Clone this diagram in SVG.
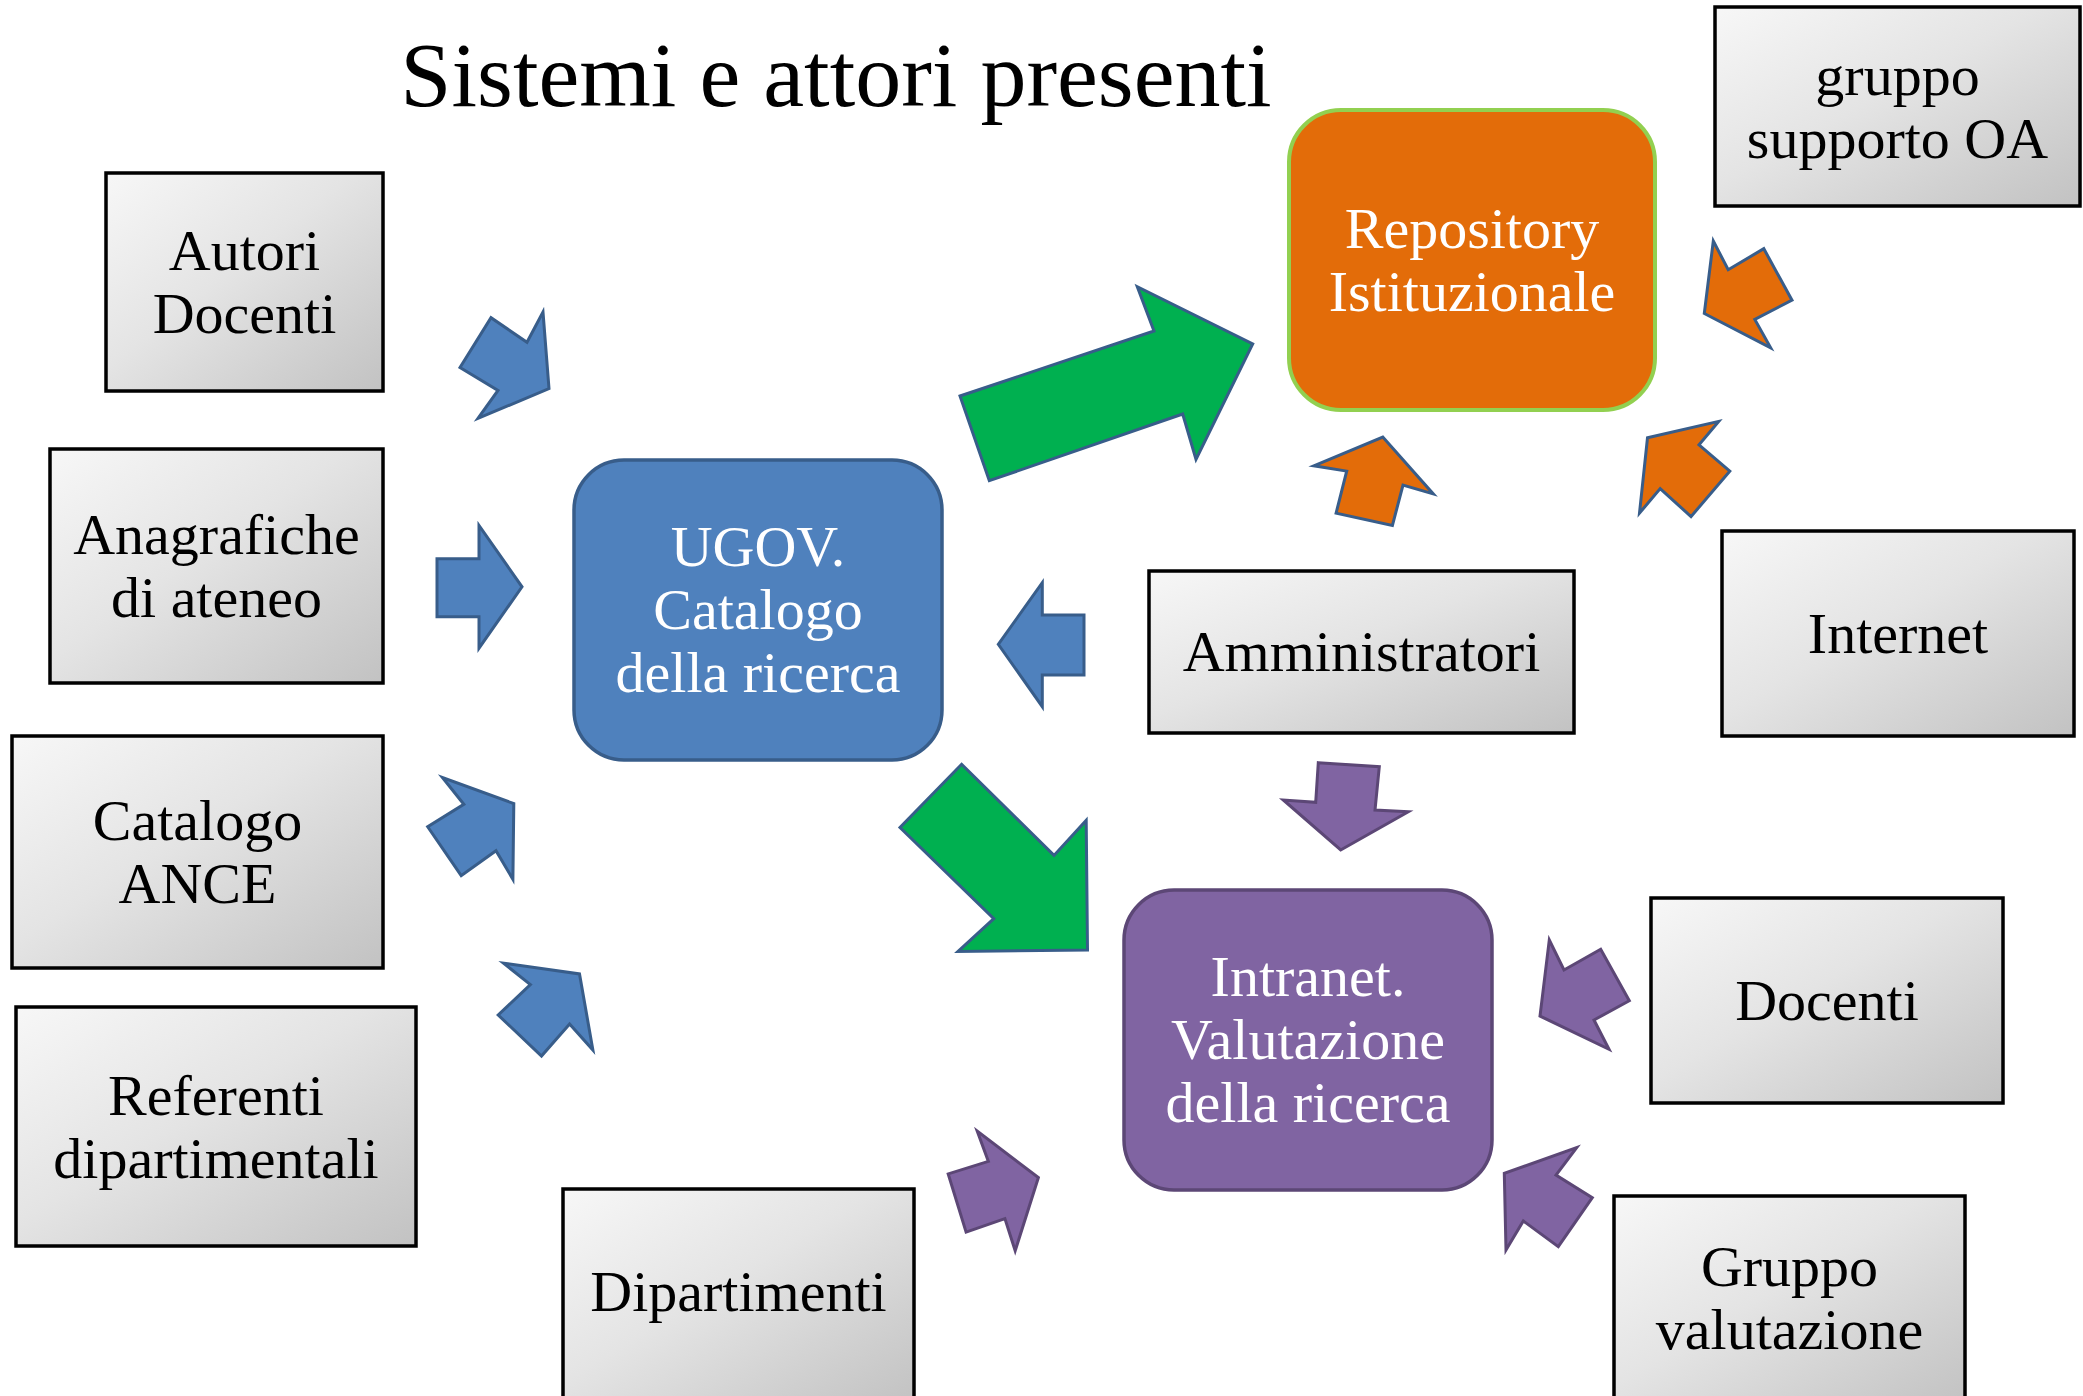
<svg xmlns="http://www.w3.org/2000/svg" width="2083" height="1396" viewBox="0 0 2083 1396">
  <defs>
    <linearGradient id="gray" x1="0" y1="0" x2="1" y2="1">
      <stop offset="0" stop-color="#F7F7F7"/>
      <stop offset="0.45" stop-color="#E4E4E4"/>
      <stop offset="1" stop-color="#C2C2C2"/>
    </linearGradient>
  </defs>
  <style>
    .box { fill: url(#gray); stroke: #000; stroke-width: 3.5; }
    .t { font-family: "Liberation Serif", "Times New Roman", serif; font-size: 58px; text-anchor: middle; fill: #000; }
    .w { fill: #FFFFFF; }
    .title { font-family: "Liberation Serif", "Times New Roman", serif; font-size: 92px; text-anchor: middle; fill: #000; }
    .blue { fill: #4F81BD; stroke: #385D8A; stroke-width: 3; stroke-linejoin: miter; }
    .green { fill: #00B050; stroke: #385D8A; stroke-width: 3; }
    .orange { fill: #E36C09; stroke: #385D8A; stroke-width: 3; }
    .purple { fill: #8064A2; stroke: #5C4776; stroke-width: 3; }
  </style>
  <rect width="2083" height="1396" fill="#FFFFFF"/>

  <text class="title" x="836" y="106">Sistemi e attori presenti</text>

  <g id="connectors">
    <polygon class="blue" points="460,367.5 491,317.7 527,342.3 543,312.1 549,388.6 478,418.4 498,390.4"/>
    <polygon class="blue" points="437,558.8 479,558.8 479,525.4 522,586.8 479,648.2 479,616.7 437,616.7"/>
    <polygon class="blue" points="463.8,804.3 442.4,777.5 513.8,803.6 512.9,879.3 496,850.7 461.2,875.7 427.7,826.8"/>
    <polygon class="blue" points="530.4,984.6 503.6,963.2 579.5,973.9 592.9,1050 569.6,1023.9 541.5,1056.1 498.2,1015"/>
    <polygon class="blue" points="998.3,644.3 1042.3,582.7 1042.3,615 1084,615 1084,675 1042.3,675 1042.3,706.7"/>
    <polygon class="green" points="960,396 1154,331 1137.3,286.7 1252.7,344 1196,459.3 1182.7,414 989.3,480.7"/>
    <polygon class="green" points="961.6,764.3 1054,855.4 1086.2,820.4 1087.5,950 958,951.4 993.8,918.6 900,827.5"/>
    <polygon class="orange" points="1713.3,241 1728.2,269.7 1763.8,248.7 1792,300.2 1754.8,319.4 1770.7,347.8 1704.3,313.5"/>
    <polygon class="orange" points="1313.8,465.8 1382.8,437.1 1433.3,493.9 1403,485.1 1392.4,525.4 1336.1,513.1 1346.7,471.1"/>
    <polygon class="orange" points="1647.5,437.8 1718.7,421.4 1699,444.8 1729.8,471.1 1691,516.6 1660.2,488.6 1639.5,513.1"/>
    <polygon class="purple" points="1318.3,762.7 1379.3,766.7 1375,810 1408.3,811.7 1340.7,850 1283.3,800 1315.7,802.3"/>
    <polygon class="purple" points="988.4,1161.4 977.2,1131.1 1038.4,1177.5 1015.2,1250.7 1004.9,1218.6 966.1,1232.1 948.2,1173.9"/>
    <polygon class="purple" points="1549.3,940 1564,970 1600.7,949.3 1629.3,1000.7 1594,1020 1609,1049.3 1540,1016"/>
    <polygon class="purple" points="1576.7,1147.7 1556,1175 1592.3,1197.7 1558.3,1246.7 1523.3,1221 1506,1250 1504.3,1173.3"/>
  </g>

  <g id="ugov">
    <rect x="574" y="460" width="368" height="300" rx="50" ry="50" fill="#4F81BD" stroke="#385D8A" stroke-width="3.5"/>
    <text class="t w" x="758" y="566">UGOV.</text>
    <text class="t w" x="758" y="629">Catalogo</text>
    <text class="t w" x="758" y="692">della ricerca</text>
  </g>

  <g id="repository">
    <rect x="1289" y="110" width="366" height="300" rx="52" ry="52" fill="#E36C09" stroke="#92D050" stroke-width="4"/>
    <text class="t w" x="1472" y="247.5">Repository</text>
    <text class="t w" x="1472" y="310.5">Istituzionale</text>
  </g>

  <g id="intranet">
    <rect x="1124" y="890" width="368" height="300" rx="50" ry="50" fill="#8064A2" stroke="#5C4776" stroke-width="3.5"/>
    <text class="t w" x="1308" y="996">Intranet.</text>
    <text class="t w" x="1308" y="1059">Valutazione</text>
    <text class="t w" x="1308" y="1122">della ricerca</text>
  </g>

  <g id="autori-docenti">
    <rect class="box" x="106" y="173" width="277" height="218"/>
    <text class="t" x="244.5" y="269.5">Autori</text>
    <text class="t" x="244.5" y="332.5">Docenti</text>
  </g>

  <g id="anagrafiche">
    <rect class="box" x="50" y="449" width="333" height="234"/>
    <text class="t" x="216.5" y="553.5">Anagrafiche</text>
    <text class="t" x="216.5" y="616.5">di ateneo</text>
  </g>

  <g id="catalogo-ance">
    <rect class="box" x="12" y="736" width="371" height="232"/>
    <text class="t" x="197.5" y="840">Catalogo</text>
    <text class="t" x="197.5" y="903">ANCE</text>
  </g>

  <g id="referenti">
    <rect class="box" x="16" y="1007" width="400" height="239"/>
    <text class="t" x="216" y="1115">Referenti</text>
    <text class="t" x="216" y="1178">dipartimentali</text>
  </g>

  <g id="dipartimenti">
    <rect class="box" x="563" y="1189" width="351" height="215"/>
    <text class="t" x="738.5" y="1311">Dipartimenti</text>
  </g>

  <g id="gruppo-supporto-oa">
    <rect class="box" x="1715" y="7" width="365" height="199"/>
    <text class="t" x="1897.5" y="94.5">gruppo</text>
    <text class="t" x="1897.5" y="158">supporto OA</text>
  </g>

  <g id="internet">
    <rect class="box" x="1722" y="531" width="352" height="205"/>
    <text class="t" x="1898" y="653">Internet</text>
  </g>

  <g id="amministratori">
    <rect class="box" x="1149" y="571" width="425" height="162"/>
    <text class="t" x="1361.5" y="671">Amministratori</text>
  </g>

  <g id="docenti">
    <rect class="box" x="1651" y="898" width="352" height="205"/>
    <text class="t" x="1827" y="1020">Docenti</text>
  </g>

  <g id="gruppo-valutazione">
    <rect class="box" x="1614" y="1196" width="351" height="210"/>
    <text class="t" x="1789.5" y="1286">Gruppo</text>
    <text class="t" x="1789.5" y="1349">valutazione</text>
  </g>
</svg>
